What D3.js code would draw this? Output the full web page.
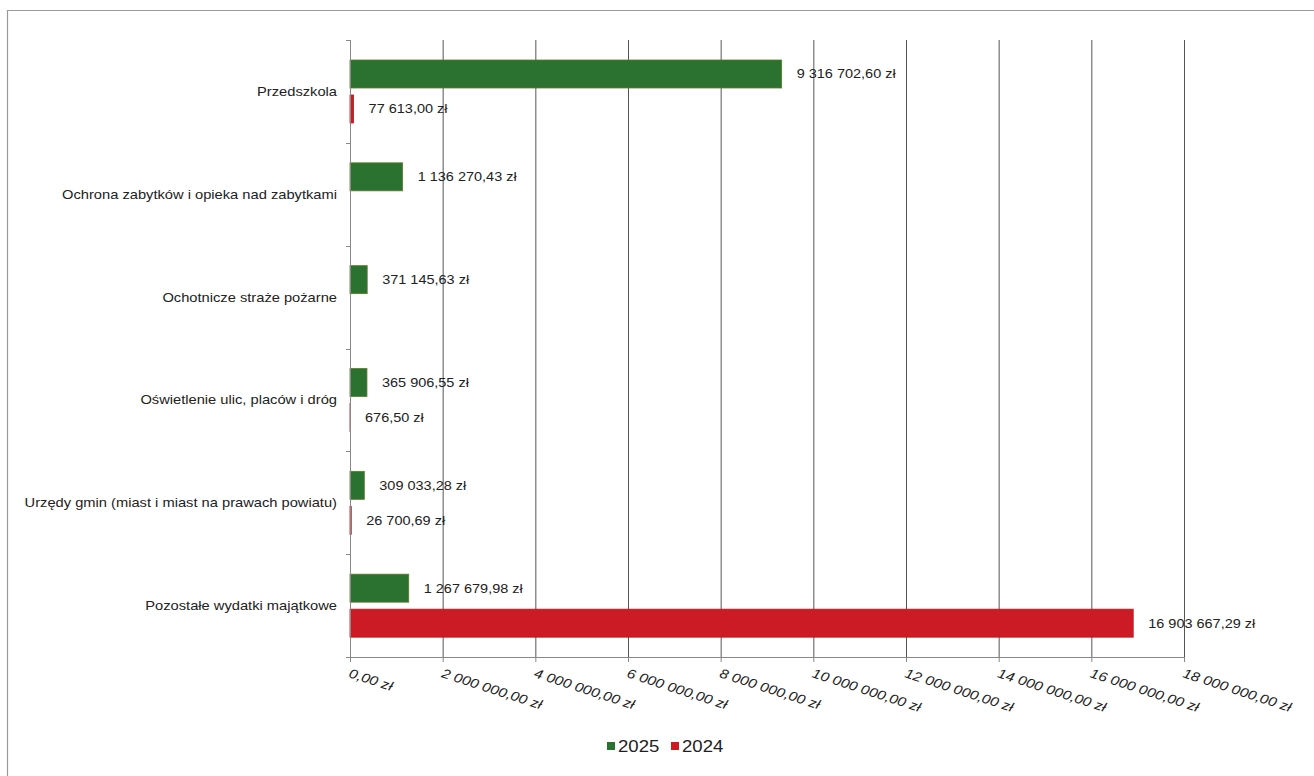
<!DOCTYPE html>
<html><head><meta charset="utf-8">
<script src="https://cdn.jsdelivr.net/npm/d3@7"></script>
<style>body{margin:0;background:#fff}svg{display:block}text{font-family:"Liberation Sans",Arial,sans-serif}</style>
</head><body><svg id="c" width="1314" height="776"></svg>
<script>
const categories = ["Przedszkola","Ochrona zabytków i opieka nad zabytkami","Ochotnicze straże pożarne","Oświetlenie ulic, placów i dróg","Urzędy gmin (miast i miast na prawach powiatu)","Pozostałe wydatki majątkowe"];
const values2025 = [9316702.60, 1136270.43, 371145.63, 365906.55, 309033.28, 1267679.98];
const values2024 = [77613.00, null, null, 676.50, 26700.69, 16903667.29];
const seriesNames = ["2025","2024"];
const seriesColors = ["#2b7231","#cc1b24"];
const xTicks = [0,2000000,4000000,6000000,8000000,10000000,12000000,14000000,16000000,18000000];

const SX = 1.16;
function fmt(v){
  const parts = v.toFixed(2).split(".");
  const intp = parts[0].replace(/\B(?=(\d{3})+(?!\d))/g, " ");
  return intp + "," + parts[1] + " zł";
}
const svg = d3.select("#c");
svg.append("path").attr("d","M7.5,776 L7.5,10.5 L1314,10.5").attr("fill","none").attr("stroke","#9a9a9a").attr("stroke-width",1.2);

const x = d3.scaleLinear().domain([0,18000000]).range([350,1184]);
const y = d3.scaleBand().domain(categories).range([40,657]);
const ys = d3.scaleBand().domain(seriesNames).range([20,83]).paddingInner(0.2);

svg.append("g").selectAll("line").data(xTicks.slice(1)).join("line")
  .attr("x1",d=>x(d)+0.5).attr("x2",d=>x(d)+0.5).attr("y1",40).attr("y2",657)
  .attr("stroke","#555").attr("stroke-width",1);

const data = categories.map((c,i)=>({c, vals:[{s:"2025",v:values2025[i]},{s:"2024",v:values2024[i]}]}));
const g = svg.append("g").selectAll("g").data(data).join("g").attr("transform",d=>`translate(0,${y(d.c)})`);
const bars = g.selectAll("g").data(d=>d.vals.filter(e=>e.v!=null)).join("g");
bars.append("rect").attr("x",x(0)).attr("y",d=>ys(d.s)).attr("width",d=>Math.max(0,x(d.v)-x(0)))
  .attr("height",ys.bandwidth()).attr("fill",d=>seriesColors[seriesNames.indexOf(d.s)])
  .attr("stroke",d=>d.s==="2025"?"#5e7a2c":"#b31a22").attr("stroke-width",0.8);
bars.append("text").attr("transform",d=>`translate(${x(d.v)+15},${ys(d.s)+ys.bandwidth()/2}) scale(${SX},1)`)
  .attr("dy","0.35em").attr("font-size",12.5).attr("fill","#222").text(d=>fmt(d.v));

svg.append("line").attr("x1",350.5).attr("x2",350.5).attr("y1",40).attr("y2",657).attr("stroke","#888");
const bounds = categories.map(c=>y(c)).concat([657]);
svg.append("g").selectAll("line").data(bounds).join("line")
  .attr("x1",346).attr("x2",350).attr("y1",d=>Math.round(d)+0.5).attr("y2",d=>Math.round(d)+0.5).attr("stroke","#888");
svg.append("g").selectAll("text").data(categories).join("text")
  .attr("transform",d=>`translate(337,${y(d)+y.bandwidth()/2}) scale(1.13,1)`).attr("dy","0.35em").attr("text-anchor","end")
  .attr("font-size",13).attr("fill","#222").text(d=>d);

svg.append("line").attr("x1",346).attr("x2",1184).attr("y1",657.5).attr("y2",657.5).attr("stroke","#888").attr("stroke-width",1.2);
svg.append("g").selectAll("line").data(xTicks).join("line")
  .attr("x1",d=>x(d)+0.5).attr("x2",d=>x(d)+0.5).attr("y1",657).attr("y2",662).attr("stroke","#888");
svg.append("g").selectAll("text").data(xTicks).join("text")
  .attr("transform",d=>`translate(${x(d)-2},${677}) rotate(18) scale(${SX},1)`)
  .attr("font-size",13.2).attr("font-style","italic").attr("fill","#222").text(d=>fmt(d));

const lg = svg.append("g").attr("transform","translate(607,746)");
seriesNames.forEach((s,i)=>{
  const gx = i*64;
  lg.append("rect").attr("x",gx).attr("y",-4).attr("width",8).attr("height",8).attr("fill",seriesColors[i]);
  lg.append("text").attr("transform",`translate(${gx+11},0) scale(${SX},1)`).attr("dy","0.35em").attr("font-size",16).attr("fill","#222").text(s);
});
</script></body></html>
